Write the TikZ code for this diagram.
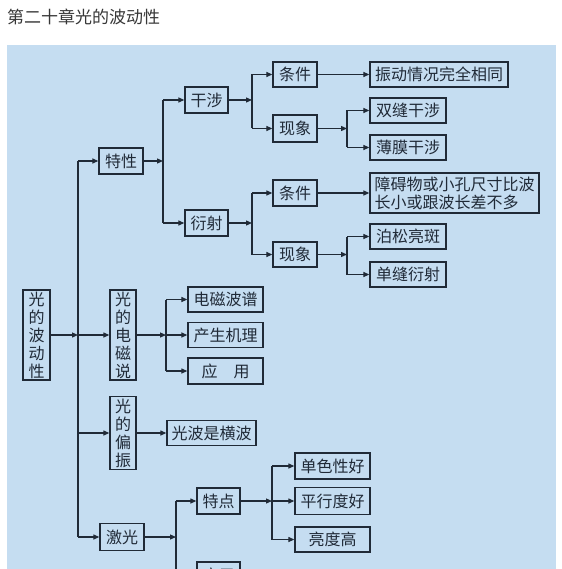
\documentclass[tikz,border=0pt]{standalone}
\usepackage{fontspec}
\setmainfont{Noto Sans CJK SC}
\usetikzlibrary{arrows.meta}
\definecolor{panel}{RGB}{197,221,241}
\definecolor{ink}{RGB}{32,42,55}
\definecolor{titlec}{RGB}{55,55,55}
\begin{document}
\begin{tikzpicture}[x=1pt,y=-1pt,
  box/.style={draw=ink, line width=1.3pt, fill=panel, inner sep=0pt,
    minimum height=26pt, font=\fontsize{16}{18}\selectfont, text=ink},
  vbox/.style={box, minimum width=26pt, align=center},
  arr/.style={-{Triangle[length=6pt,width=5pt]}},
  link/.style={draw=ink, line width=1.2pt}]
\clip (0,0) rectangle (561,569);
\fill[white] (0,0) rectangle (561,569);
\fill[panel] (7,45) rectangle (556,580);
\node[anchor=west, inner sep=0pt, font=\fontsize{17}{20}\selectfont, text=titlec] (title) at (7,17) {第二十章光的波动性};

% level 0 / 1
\node[vbox, minimum width=27pt, minimum height=90pt] (root) at (36.5,335) {光\\的\\波\\动\\性};
\node[box, minimum width=44pt] (texing) at (121,161) {特性};
\node[vbox, minimum height=90pt] (dci) at (123,335) {光\\的\\电\\磁\\说};
\node[vbox, minimum height=73pt] (pz) at (123,433) {光\\的\\偏\\振};
\node[box, minimum width=44pt, minimum height=27pt] (jg) at (122,537) {激光};

% 特性
\node[box, minimum width=43pt] (gs) at (206.5,100) {干涉};
\node[box, minimum width=43pt] (ys) at (206.5,223) {衍射};
\node[box, minimum width=44pt, minimum height=25pt] (tj1) at (295,74.5) {条件};
\node[box, minimum width=44pt, minimum height=27pt] (xx1) at (295,128.5) {现象};
\node[box, minimum width=138pt, minimum height=25pt] (zd) at (439,74.5) {振动情况完全相同};
\node[box, minimum width=76pt, minimum height=25pt] (sf) at (408,110.5) {双缝干涉};
\node[box, minimum width=76pt, minimum height=25pt] (bm) at (408,147.5) {薄膜干涉};
\node[box, minimum width=44pt] (tj2) at (295,193) {条件};
\node[box, minimum width=169pt, minimum height=40pt, align=left] (za) at (454.5,193) {障碍物或小孔尺寸比波\\长小或跟波长差不多};
\node[box, minimum width=44pt, minimum height=25pt] (xx2) at (295,254.5) {现象};
\node[box, minimum width=76pt, minimum height=25pt] (bs) at (408,236.5) {泊松亮斑};
\node[box, minimum width=76pt, minimum height=25pt] (df) at (408,274.5) {单缝衍射};

% 电磁说
\node[box, minimum width=75pt, minimum height=25pt] (pu) at (225.5,299.5) {电磁波谱};
\node[box, minimum width=75pt, minimum height=25pt] (jl) at (225.5,335) {产生机理};
\node[box, minimum width=75pt] (yy1) at (225.5,371) {应\hspace{1em}用};

% 偏振
\node[box, minimum width=89pt, minimum height=25pt] (hb) at (211.5,433) {光波是横波};

% 激光
\node[box, minimum width=43pt] (td) at (218.5,501) {特点};
\node[box, minimum width=43pt] (yy2) at (218.5,575) {应用};
\node[box, minimum width=75pt] (ds) at (332.5,466) {单色性好};
\node[box, minimum width=75pt, minimum height=27pt] (px) at (332.5,501) {平行度好};
\node[box, minimum width=75pt, minimum height=25pt] (ld) at (332.5,539.5) {亮度高};

% junction coordinates
\coordinate (t1) at (78,161);
\coordinate (t2) at (78,335);
\coordinate (t3) at (78,433);
\coordinate (t4) at (78,537);
\coordinate (a1) at (163,100);
\coordinate (a2) at (163,161);
\coordinate (a3) at (163,223);
\coordinate (g1) at (252,74.5);
\coordinate (g2) at (252,100);
\coordinate (g3) at (252,128.5);
\coordinate (h1) at (347,110.5);
\coordinate (h2) at (347,128.5);
\coordinate (h3) at (347,147.5);
\coordinate (y1) at (252,193);
\coordinate (y2) at (252,223);
\coordinate (y3) at (252,254.5);
\coordinate (k1) at (347,236.5);
\coordinate (k2) at (347,254.5);
\coordinate (k3) at (347,274.5);
\coordinate (d1) at (166,299.5);
\coordinate (d2) at (166,335);
\coordinate (d3) at (166,371);
\coordinate (j1) at (176,501);
\coordinate (j2) at (176,537);
\coordinate (j3) at (176,575);
\coordinate (p1) at (272,466);
\coordinate (p2) at (272,501);
\coordinate (p3) at (272,539.5);

% trunk
\draw[link, arr] (root.east) -- (t2);
\draw[link] (t1) -- (t4);
\draw[link, arr] (t1) -- (texing.west);
\draw[link, arr] (t2) -- (dci.west);
\draw[link, arr] (t3) -- (pz.west);
\draw[link, arr] (t4) -- (jg.west);

% 特性
\draw[link, arr] (texing.east) -- (a2);
\draw[link] (a1) -- (a3);
\draw[link, arr] (a1) -- (gs.west);
\draw[link, arr] (a3) -- (ys.west);

% 干涉
\draw[link, arr] (gs.east) -- (g2);
\draw[link] (g1) -- (g3);
\draw[link, arr] (g1) -- (tj1.west);
\draw[link, arr] (g3) -- (xx1.west);
\draw[link, arr] (tj1.east) -- (zd.west);
\draw[link, arr] (xx1.east) -- (h2);
\draw[link] (h1) -- (h3);
\draw[link, arr] (h1) -- (sf.west);
\draw[link, arr] (h3) -- (bm.west);

% 衍射
\draw[link, arr] (ys.east) -- (y2);
\draw[link] (y1) -- (y3);
\draw[link, arr] (y1) -- (tj2.west);
\draw[link, arr] (y3) -- (xx2.west);
\draw[link, arr] (tj2.east) -- (za.west);
\draw[link, arr] (xx2.east) -- (k2);
\draw[link] (k1) -- (k3);
\draw[link, arr] (k1) -- (bs.west);
\draw[link, arr] (k3) -- (df.west);

% 电磁说
\draw[link, arr] (dci.east) -- (d2);
\draw[link] (d1) -- (d3);
\draw[link, arr] (d1) -- (pu.west);
\draw[link, arr] (d2) -- (jl.west);
\draw[link, arr] (d3) -- (yy1.west);

% 偏振
\draw[link, arr] (pz.east) -- (hb.west);

% 激光
\draw[link, arr] (jg.east) -- (j2);
\draw[link] (j1) -- (j3);
\draw[link, arr] (j1) -- (td.west);
\draw[link, arr] (j3) -- (yy2.west);
\draw[link, arr] (td.east) -- (p2);
\draw[link] (p1) -- (p3);
\draw[link, arr] (p1) -- (ds.west);
\draw[link, arr] (p2) -- (px.west);
\draw[link, arr] (p3) -- (ld.west);
\end{tikzpicture}
\end{document}
